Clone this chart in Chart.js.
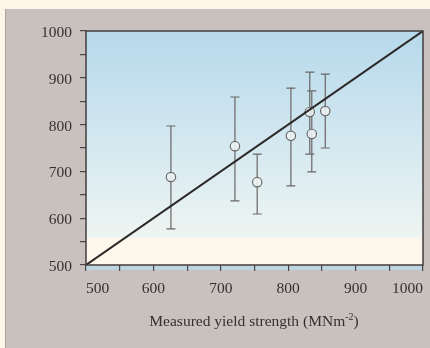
<!DOCTYPE html>
<html>
<head>
<meta charset="utf-8">
<script src="https://cdn.jsdelivr.net/npm/chart.js@4.4.1/dist/chart.umd.min.js"></script>
<style>
  html, body { margin: 0; padding: 0; background: #fdf6e8; }
  canvas { display: block; }
</style>
</head>
<body>
<canvas id="yieldChart" width="430" height="348"></canvas>
<script>
// Measured vs predicted yield strength (MNm-2)
const measured  = [626, 721, 754, 804, 832, 835, 855];
const predicted = [688, 754, 677, 776, 827, 780, 829];
const errLow    = [577, 637, 609, 669, 737, 699, 750];
const errHigh   = [797, 859, 737, 878, 912, 872, 908];
// 1:1 line
const identity  = [500, 1000];

const axisMin = 500, axisMax = 1000, tickStep = 50, labelStep = 100;
const xTitle = 'Measured yield strength (MNm';
const xTitleSup = '-2';

const inkColor = '#353030';
const serif = '"Liberation Serif", "DejaVu Serif", serif';

// paper, grey panel and the blue wash inside the plot
const backgroundPlugin = {
    id: 'background',
    beforeDraw(chart) {
        const ctx = chart.ctx;
        const a = chart.chartArea;
        ctx.save();
        ctx.fillStyle = '#fdf6e8';
        ctx.fillRect(0, 0, chart.width, chart.height);
        ctx.fillStyle = '#c8c1be';
        ctx.fillRect(5, 9, chart.width - 5, chart.height - 9);
        ctx.strokeStyle = '#aaa4a1';
        ctx.lineWidth = 1;
        ctx.beginPath();
        ctx.moveTo(5.5, 9);
        ctx.lineTo(5.5, chart.height);
        ctx.stroke();

        const g = ctx.createLinearGradient(0, a.top, 0, a.bottom);
        g.addColorStop(0, '#b6d9eb');
        g.addColorStop(0.45, '#d2e7f0');
        g.addColorStop(0.88, '#eef5f2');
        g.addColorStop(0.885, '#fdf7ec');
        g.addColorStop(1, '#fdf7ec');
        ctx.fillStyle = g;
        ctx.fillRect(a.left, a.top, a.right - a.left, a.bottom - a.top);

        // faint blue strip under the x axis
        ctx.fillStyle = '#bcd5e0';
        ctx.fillRect(a.left, a.bottom, a.right - a.left, 5);
        ctx.restore();
    }
};

// vertical error bars with caps
const errorBarPlugin = {
    id: 'errorBars',
    beforeDatasetsDraw(chart) {
        const ctx = chart.ctx;
        const xs = chart.scales.x, ys = chart.scales.y;
        ctx.save();
        ctx.strokeStyle = '#6a6666';
        ctx.lineWidth = 1.2;
        measured.forEach((m, i) => {
            const x = xs.getPixelForValue(m);
            const yLo = ys.getPixelForValue(errLow[i]);
            const yHi = ys.getPixelForValue(errHigh[i]);
            ctx.beginPath();
            ctx.moveTo(x, yLo);
            ctx.lineTo(x, yHi);
            ctx.moveTo(x - 4.5, yLo);
            ctx.lineTo(x + 4.5, yLo);
            ctx.moveTo(x - 4.5, yHi);
            ctx.lineTo(x + 4.5, yHi);
            ctx.stroke();
        });
        ctx.restore();
    }
};

// box round the plot and the axis title with its superscript
const framePlugin = {
    id: 'frame',
    afterDraw(chart) {
        const ctx = chart.ctx;
        const a = chart.chartArea;
        ctx.save();
        ctx.strokeStyle = '#413c3c';
        ctx.lineWidth = 1.5;
        ctx.strokeRect(a.left, a.top, a.right - a.left, a.bottom - a.top);

        ctx.fillStyle = inkColor;
        ctx.textBaseline = 'alphabetic';
        ctx.font = '15.5px ' + serif;
        const w1 = ctx.measureText(xTitle).width;
        const w3 = ctx.measureText(')').width;
        ctx.font = '10px ' + serif;
        const w2 = ctx.measureText(xTitleSup).width;
        let x = 254 - (w1 + w2 + w3) / 2;
        const base = 326;
        ctx.font = '15.5px ' + serif;
        ctx.fillText(xTitle, x, base);
        x += w1;
        ctx.font = '10px ' + serif;
        ctx.fillText(xTitleSup, x, base - 6);
        x += w2;
        ctx.font = '15.5px ' + serif;
        ctx.fillText(')', x, base);
        ctx.restore();
    }
};

function tickLabel(value) {
    return value % labelStep === 0 ? value : '';
}

const ctx = document.getElementById('yieldChart').getContext('2d');
const yieldChart = new Chart(ctx, {
    type: 'scatter',
    data: {
        datasets: [
            {
                type: 'line',
                data: identity.map(v => ({ x: v, y: v })),
                borderColor: '#2c2828',
                borderWidth: 2,
                pointRadius: 0,
                fill: false,
                order: 0
            },
            {
                data: measured.map((m, i) => ({ x: m, y: predicted[i] })),
                pointRadius: 4.7,
                pointBorderColor: '#6c6969',
                pointBorderWidth: 1.2,
                pointBackgroundColor: 'rgba(235,242,242,0.9)',
                order: 1
            }
        ]
    },
    options: {
        responsive: false,
        animation: false,
        devicePixelRatio: 1,
        layout: { padding: { left: 0, top: 31, right: 7, bottom: 0 } },
        plugins: {
            legend: { display: false },
            tooltip: { enabled: false }
        },
        scales: {
            x: {
                type: 'linear',
                min: axisMin,
                max: axisMax,
                border: { display: false },
                grid: {
                    display: true,
                    drawOnChartArea: false,
                    drawTicks: true,
                    tickLength: 6,
                    color: '#4a4545',
                    lineWidth: 1.2
                },
                ticks: {
                    stepSize: tickStep,
                    autoSkip: false,
                    maxRotation: 0,
                    align: 'inner',
                    padding: 9,
                    color: inkColor,
                    font: { family: serif, size: 15.5 },
                    callback: tickLabel
                },
                afterFit(axis) {
                    axis.height = 83;
                    axis.paddingLeft = 0;
                    axis.paddingRight = 0;
                }
            },
            y: {
                type: 'linear',
                min: axisMin,
                max: axisMax,
                border: { display: false },
                grid: {
                    display: true,
                    drawOnChartArea: false,
                    drawTicks: true,
                    tickLength: 6,
                    color: '#4a4545',
                    lineWidth: 1.2
                },
                ticks: {
                    stepSize: tickStep,
                    autoSkip: false,
                    padding: 8,
                    labelOffset: 2,
                    color: inkColor,
                    font: { family: serif, size: 15.5 },
                    callback: tickLabel
                },
                afterFit(axis) {
                    axis.width = 86;
                }
            }
        }
    },
    plugins: [backgroundPlugin, errorBarPlugin, framePlugin]
});
</script>
</body>
</html>
